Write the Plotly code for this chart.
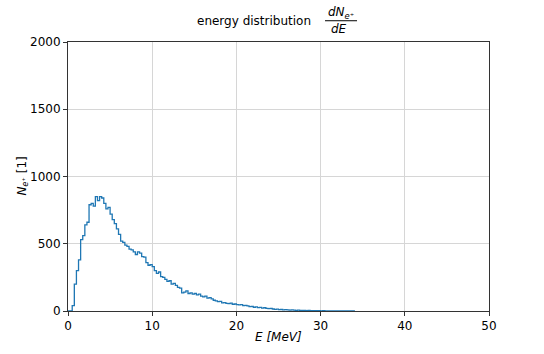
import numpy as np
import plotly.graph_objects as go

bin_width = 0.25
counts = [
    0, 0, 40, 200, 300, 380, 530, 560, 640, 660, 790, 800, 780, 850, 820, 850,
    840, 800, 760, 770, 720, 680, 650, 610, 570, 520, 510, 490, 480, 460, 455, 440,
    420, 440, 430, 405, 400, 360, 340, 345, 330, 300, 280, 290, 255, 250, 235, 220,
    225, 200, 205, 190, 175, 170, 135, 140, 150, 130, 135, 125, 130, 120, 125, 110,
    105, 110, 95, 100, 90, 80, 75, 70, 72, 60, 62, 57, 55, 58, 50, 52,
    48, 45, 47, 40, 42, 38, 33, 35, 28, 30, 25, 27, 22, 24, 20, 18,
    20, 15, 12, 14, 10, 11, 9, 10, 8, 7, 8, 6, 5, 6, 5, 4,
    5, 3, 4, 3, 2, 3, 2, 2, 1, 2, 1, 1, 1, 0, 1, 1,
    0, 1, 0, 0, 1, 0, 0, 1,
]
edges = np.arange(len(counts) + 1) * bin_width

x_ticks = [0, 10, 20, 30, 40, 50]
y_ticks = [0, 500, 1000, 1500, 2000]

xs = list(edges[:-1]) + [edges[-1]]
ys = list(counts) + [0]

fig = go.Figure()
fig.add_trace(go.Scatter(
    x=xs, y=ys, mode="lines", line=dict(color="#1f77b4", width=1.3, shape="hv"),
    showlegend=False, hoverinfo="skip",
))

font = dict(family="DejaVu Sans", size=12, color="black")
axis_common = dict(
    showline=True, mirror=True, linecolor="#333333", linewidth=1,
    ticks="outside", ticklen=4, tickcolor="#333333", tickwidth=1,
    showgrid=True, gridcolor="#d6d6d6", gridwidth=1, zeroline=False,
    tickfont=font, automargin=False,
)
fig.update_layout(
    width=544, height=354,
    margin=dict(l=68, r=55, t=42, b=43),
    paper_bgcolor="white", plot_bgcolor="white",
    font=font,
    xaxis=dict(range=[0, 50], tickvals=x_ticks, ticktext=[str(v) for v in x_ticks], **axis_common),
    yaxis=dict(range=[0, 2000], tickvals=y_ticks, ticktext=[str(v) for v in y_ticks], **axis_common),
)

# axis titles
fig.add_annotation(xref="paper", yref="paper", x=0.5, y=-0.0967, text="<i>E [MeV]</i>",
                   showarrow=False, xanchor="center", yanchor="middle", font=font)
fig.add_annotation(xref="paper", yref="paper", x=-0.109, y=0.5,
                   text="<i>N</i><sub><i>e</i>⁺</sub> [1]", textangle=-90,
                   showarrow=False, xanchor="center", yanchor="middle", font=font)

# title with fraction
fig.add_annotation(xref="paper", yref="paper", x=0.5820, y=1.078, text="energy distribution",
                   showarrow=False, xanchor="right", yanchor="middle", font=font)
fig.add_annotation(xref="paper", yref="paper", x=0.6485, y=1.106,
                   text="<i>dN</i><sub><i>e</i>⁺</sub>",
                   showarrow=False, xanchor="center", yanchor="middle", font=font)
fig.add_annotation(xref="paper", yref="paper", x=0.6445, y=1.050, text="<i>dE</i>",
                   showarrow=False, xanchor="center", yanchor="middle", font=font)
fig.add_shape(type="line", xref="paper", yref="paper", x0=0.6105, x1=0.6865, y0=1.079, y1=1.079,
              line=dict(color="black", width=1))

fig.write_html("out.html", config={"displayModeBar": False},
               post_script="document.body.style.margin='0px';")
